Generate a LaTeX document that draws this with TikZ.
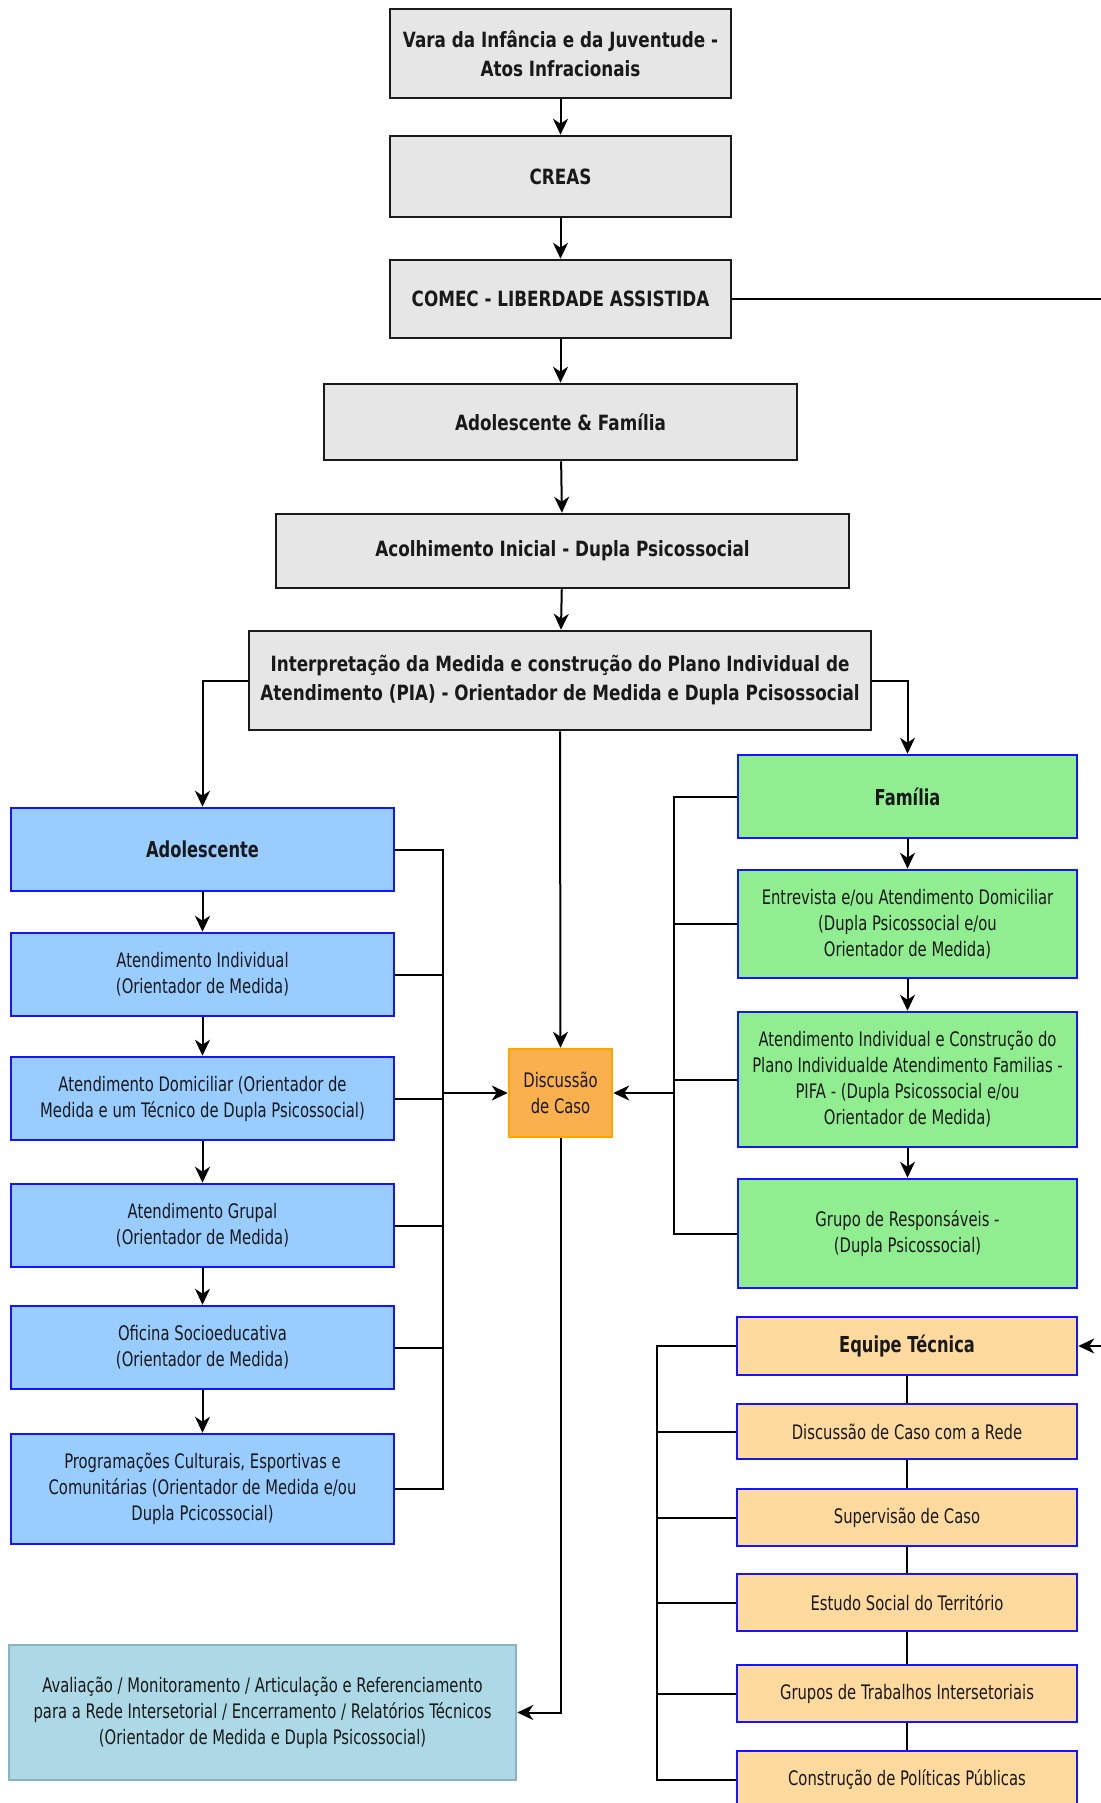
\documentclass[tikz,border=0pt]{standalone}
\usepackage{fontspec}
\setmainfont{DejaVu Sans}[FakeStretch=0.74]
\newfontfamily\grayfont{DejaVu Sans}[FakeStretch=0.80]
\usetikzlibrary{arrows.meta}
\definecolor{grayfill}{HTML}{E6E6E6}
\definecolor{grayline}{HTML}{1A1A1A}
\definecolor{bluefill}{HTML}{99CCFF}
\definecolor{blueline}{HTML}{1414FF}
\definecolor{greenfill}{HTML}{90EE90}
\definecolor{eqfill}{HTML}{FFDA9E}
\definecolor{discfill}{HTML}{FBB04E}
\definecolor{discline}{HTML}{FFA500}
\definecolor{avalfill}{HTML}{ADD8E6}
\definecolor{avalline}{HTML}{8AB4C4}
\tikzset{
  basebox/.style={rectangle, inner sep=0pt, align=center, line width=2.5pt, text=black!90},
  graybox/.style={basebox, fill=grayfill, draw=grayline, font=\grayfont\fontsize{21}{29}\selectfont\bfseries},
  bluebox/.style={basebox, fill=bluefill, draw=blueline, font=\fontsize{20}{26}\selectfont},
  greenbox/.style={basebox, fill=greenfill, draw=blueline, font=\fontsize{20}{26}\selectfont},
  eqbox/.style={basebox, fill=eqfill, draw=blueline, font=\fontsize{20}{26}\selectfont},
  discbox/.style={basebox, fill=discfill, draw=discline, font=\fontsize{20}{26}\selectfont},
  avalbox/.style={basebox, fill=avalfill, draw=avalline, font=\fontsize{20}{26}\selectfont},
  headfont/.style={font=\fontsize{22}{28}\selectfont\bfseries},
  link/.style={line width=2pt, draw=black},
  arr/.style={link, -{Stealth[length=16pt, width=15pt, inset=5pt]}},
}
\begin{document}
\begin{tikzpicture}[x=1pt, y=-1pt]
\useasboundingbox[fill=white] (0,0) rectangle (1100,1803);

% gray chain
\node[graybox, minimum width=341, minimum height=89] (vara) at (560.5,53.5) {Vara da Infância e da Juventude -\\Atos Infracionais};
\node[graybox, minimum width=341, minimum height=81] (creas) at (560.5,176.5) {CREAS};
\node[graybox, minimum width=341, minimum height=78] (comec) at (560.5,299) {COMEC - LIBERDADE ASSISTIDA};
\node[graybox, minimum width=473, minimum height=76] (adfam) at (560.5,422) {Adolescente \& Família};
\node[graybox, minimum width=573, minimum height=74] (acol) at (562.5,551) {Acolhimento Inicial - Dupla Psicossocial};
\node[graybox, minimum width=622, minimum height=99] (interp) at (560,680.5) {Interpretação da Medida e construção do Plano Individual de\\Atendimento (PIA) - Orientador de Medida e Dupla Pcisossocial};

% adolescent column
\node[bluebox, headfont, minimum width=383, minimum height=83] (adol) at (202.5,849.5) {Adolescente};
\node[bluebox, minimum width=383, minimum height=83] (ind) at (202.5,974.5) {Atendimento Individual\\(Orientador de Medida)};
\node[bluebox, minimum width=383, minimum height=83] (dom) at (202.5,1098.5) {Atendimento Domiciliar (Orientador de\\Medida e um Técnico de Dupla Psicossocial)};
\node[bluebox, minimum width=383, minimum height=83] (grup) at (202.5,1225.5) {Atendimento Grupal\\(Orientador de Medida)};
\node[bluebox, minimum width=383, minimum height=83] (ofic) at (202.5,1347.5) {Oficina Socioeducativa\\(Orientador de Medida)};
\node[bluebox, minimum width=383, minimum height=110] (prog) at (202.5,1489) {Programações Culturais, Esportivas e\\Comunitárias (Orientador de Medida e/ou\\Dupla Pcicossocial)};
\node[avalbox, minimum width=507, minimum height=135] (aval) at (262.5,1712.5) {Avaliação / Monitoramento / Articulação e Referenciamento\\para a Rede Intersetorial / Encerramento / Relatórios Técnicos\\(Orientador de Medida e Dupla Psicossocial)};

% center
\node[discbox, minimum width=103, minimum height=88] (disc) at (560.5,1093) {Discussão\\de Caso};

% family column
\node[greenbox, headfont, minimum width=339, minimum height=83] (fam) at (907.5,796.5) {Família};
\node[greenbox, minimum width=339, minimum height=108] (entr) at (907.5,924) {Entrevista e/ou Atendimento Domiciliar\\(Dupla Psicossocial e/ou\\Orientador de Medida)};
\node[greenbox, minimum width=339, minimum height=135] (pifa) at (907.5,1079.5) {Atendimento Individual e Construção do\\Plano Individualde Atendimento Familias -\\PIFA - (Dupla Psicossocial e/ou\\Orientador de Medida)};
\node[greenbox, minimum width=339, minimum height=109] (resp) at (907.5,1233.5) {Grupo de Responsáveis -\\(Dupla Psicossocial)};

% equipe tecnica column
\node[eqbox, headfont, minimum width=340, minimum height=58] (eq) at (907,1346) {Equipe Técnica};
\node[eqbox, minimum width=340, minimum height=55] (rede) at (907,1431.5) {Discussão de Caso com a Rede};
\node[eqbox, minimum width=340, minimum height=57] (sup) at (907,1517.5) {Supervisão de Caso};
\node[eqbox, minimum width=340, minimum height=57] (terr) at (907,1602.5) {Estudo Social do Território};
\node[eqbox, minimum width=340, minimum height=57] (gti) at (907,1693.5) {Grupos de Trabalhos Intersetoriais};
\node[eqbox, minimum width=340, minimum height=57] (pol) at (907,1779.5) {Construção de Políticas Públicas};

% helper coordinates
\coordinate (lbus) at (443,0);
\coordinate (rbus) at (674,0);
\coordinate (ebus) at (657,0);
\coordinate (offR) at (1112,299);

% main chain
\draw[arr] (vara) -- (creas);
\draw[arr] (creas) -- (comec);
\draw[arr] (comec) -- (adfam);
\draw[arr] (adfam) -- (acol);
\draw[arr] (acol) -- (interp);
\draw[arr] (interp.west) -| (adol.north);
\draw[arr] (interp.east) -| (fam.north);
\draw[arr] (interp.south) -- (disc.north);

% adolescent chain
\draw[arr] (adol) -- (ind);
\draw[arr] (ind) -- (dom);
\draw[arr] (dom) -- (grup);
\draw[arr] (grup) -- (ofic);
\draw[arr] (ofic) -- (prog);

% left bus
\draw[link] (adol.east) -- (adol.east -| lbus) -- (prog.east -| lbus) -- (prog.east);
\draw[link] (ind.east) -- (ind.east -| lbus);
\draw[link] (dom.east) -- (dom.east -| lbus);
\draw[link] (grup.east) -- (grup.east -| lbus);
\draw[link] (ofic.east) -- (ofic.east -| lbus);
\draw[arr] (disc.west -| lbus) -- (disc.west);

% family chain
\draw[arr] (fam) -- (entr);
\draw[arr] (entr) -- (pifa);
\draw[arr] (pifa) -- (resp);

% right bus
\draw[link] (fam.west) -- (fam.west -| rbus) -- (resp.west -| rbus) -- (resp.west);
\draw[link] (entr.west) -- (entr.west -| rbus);
\draw[link] (pifa.west) -- (pifa.west -| rbus);
\draw[arr] (disc.east -| rbus) -- (disc.east);

% discussion to evaluation
\draw[arr] (disc.south) |- (aval.east);

% equipe links
\draw[link] (eq) -- (rede);
\draw[link] (rede) -- (sup);
\draw[link] (sup) -- (terr);
\draw[link] (terr) -- (gti);
\draw[link] (gti) -- (pol);
\draw[link] (eq.west) -- (eq.west -| ebus) -- (pol.west -| ebus) -- (pol.west);
\draw[link] (rede.west) -- (rede.west -| ebus);
\draw[link] (sup.west) -- (sup.west -| ebus);
\draw[link] (terr.west) -- (terr.west -| ebus);
\draw[link] (gti.west) -- (gti.west -| ebus);

% COMEC to Equipe Tecnica (runs off the right edge)
\draw[arr] (comec.east) -- (offR) |- (eq.east);
\end{tikzpicture}
\end{document}
